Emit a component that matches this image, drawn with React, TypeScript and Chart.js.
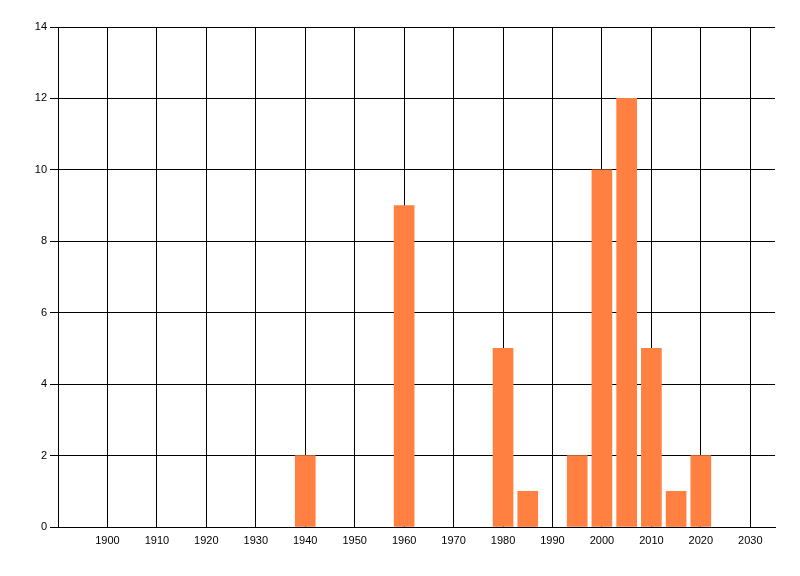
import React, { useEffect, useRef } from "react";
import { Chart, registerables } from "chart.js";

Chart.register(...registerables);

const years = [1940, 1960, 1980, 1985, 1995, 2000, 2005, 2010, 2015, 2020];
const counts = [2, 9, 5, 1, 2, 10, 12, 5, 1, 2];
const xTickValues = [1900, 1910, 1920, 1930, 1940, 1950, 1960, 1970, 1980, 1990, 2000, 2010, 2020, 2030];

export default function App() {
  const ref = useRef<HTMLCanvasElement>(null);
  useEffect(() => {
    const font = { family: "'Liberation Sans', Arial, sans-serif", size: 11 };
    const chart = new Chart(ref.current!, {
      type: "bar",
      data: {
        datasets: [
          {
            data: years.map((y, i) => ({ x: y, y: counts[i] })),
            backgroundColor: "#FF8040",
            borderWidth: 0,
            barThickness: 20,
          },
        ],
      },
      options: {
        animation: false,
        responsive: false,
        maintainAspectRatio: false,
        layout: { padding: { left: 0, right: 25, top: 27, bottom: 0 } },
        plugins: { legend: { display: false }, tooltip: { enabled: false } },
        scales: {
          x: {
            type: "linear",
            min: 1890,
            max: 2035,
            offset: false,
            afterBuildTicks: (s: any) => {
              s.ticks = xTickValues.map((v) => ({ value: v }));
            },
            afterFit: (s: any) => {
              s.height = 49;
            },
            ticks: { color: "#000", font, padding: 7, maxRotation: 0, autoSkip: false, callback: (v: any) => String(v) },
            grid: { color: "#000", lineWidth: 1, tickLength: 0, drawTicks: false, offset: false },
            border: { color: "#000", width: 1 },
          },
          y: {
            min: 0,
            max: 14,
            afterFit: (s: any) => {
              s.width = 58;
            },
            ticks: { stepSize: 2, color: "#000", font, padding: 3 },
            grid: { color: "#000", lineWidth: 1, tickLength: 8 },
            border: { color: "#000", width: 1 },
          },
        },
      },
    });
    return () => chart.destroy();
  }, []);
  return (
    <div style={{ position: "absolute", left: 0, top: 0, width: 800, height: 576, background: "#fff" }}>
      <canvas ref={ref} width={800} height={576} style={{ width: 800, height: 576 }} />
    </div>
  );
}
